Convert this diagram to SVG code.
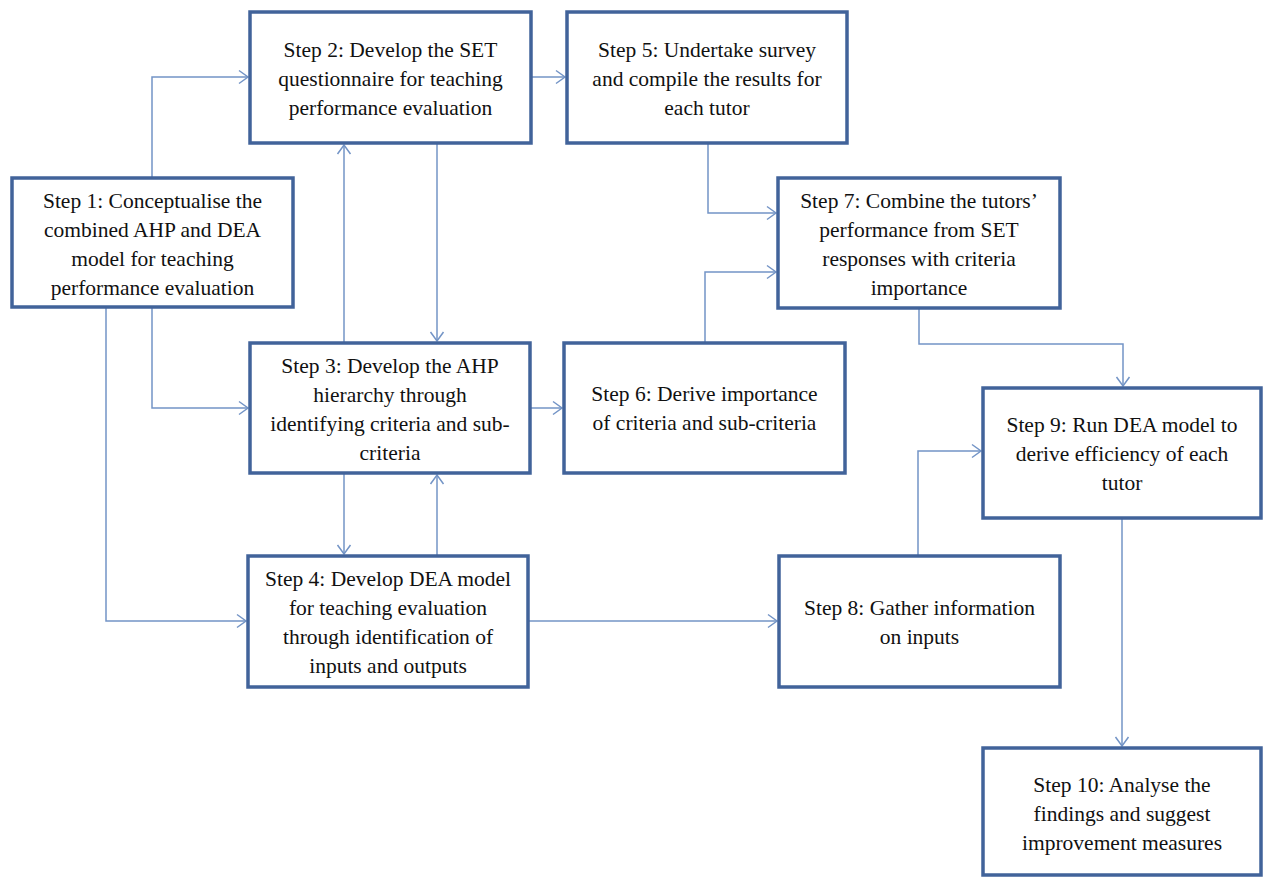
<svg xmlns="http://www.w3.org/2000/svg" width="1264" height="877" viewBox="0 0 1264 877">
<defs>
<style>
.box rect{fill:#fff;stroke:#41639a;stroke-width:3.5}
.box text{font-family:"Liberation Serif","Times New Roman",serif;font-size:21.5px;fill:#111;text-anchor:middle}
.conn path{fill:none;stroke:#7394c6;stroke-width:1.5}
</style>
<marker id="arr" viewBox="0 0 12 16" refX="10" refY="8" markerWidth="12" markerHeight="16" orient="auto" markerUnits="userSpaceOnUse">
<path d="M1,1.5 L10,8 L1,14.5" fill="none" stroke="#7394c6" stroke-width="1.5"/>
</marker>
</defs>
<rect width="1264" height="877" fill="#fff"/>
<g class="conn">
<path d="M152,178 V77 H248" marker-end="url(#arr)"/>
<path d="M531,77 H565" marker-end="url(#arr)"/>
<path d="M437,143 V341" marker-end="url(#arr)"/>
<path d="M344,343 V145" marker-end="url(#arr)"/>
<path d="M152,307 V408 H248" marker-end="url(#arr)"/>
<path d="M106,307 V621 H246" marker-end="url(#arr)"/>
<path d="M344,473 V554" marker-end="url(#arr)"/>
<path d="M437,556 V475" marker-end="url(#arr)"/>
<path d="M530,408 H562" marker-end="url(#arr)"/>
<path d="M708,143 V213 H776" marker-end="url(#arr)"/>
<path d="M705,343 V272 H776" marker-end="url(#arr)"/>
<path d="M919,308 V344 H1123 V386" marker-end="url(#arr)"/>
<path d="M528,621 H777" marker-end="url(#arr)"/>
<path d="M918,556 V451 H981" marker-end="url(#arr)"/>
<path d="M1122,518 V746" marker-end="url(#arr)"/>
</g>
<g id="step1" class="box">
<rect x="12" y="178" width="281" height="129"/>
<text x="152.5" y="208">Step 1: Conceptualise the</text>
<text x="152.5" y="237">combined AHP and DEA</text>
<text x="152.5" y="266">model for teaching</text>
<text x="152.5" y="295">performance evaluation</text>
</g>
<g id="step2" class="box">
<rect x="250" y="12" width="281" height="131"/>
<text x="390.5" y="57">Step 2: Develop the SET</text>
<text x="390.5" y="86">questionnaire for teaching</text>
<text x="390.5" y="115">performance evaluation</text>
</g>
<g id="step5" class="box">
<rect x="567" y="12" width="280" height="131"/>
<text x="707" y="57">Step 5: Undertake survey</text>
<text x="707" y="86">and compile the results for</text>
<text x="707" y="115">each tutor</text>
</g>
<g id="step7" class="box">
<rect x="778" y="178" width="282" height="130"/>
<text x="919" y="208">Step 7: Combine the tutors’</text>
<text x="919" y="237">performance from SET</text>
<text x="919" y="266">responses with criteria</text>
<text x="919" y="295">importance</text>
</g>
<g id="step3" class="box">
<rect x="250" y="343" width="280" height="130"/>
<text x="390" y="373">Step 3: Develop the AHP</text>
<text x="390" y="402">hierarchy through</text>
<text x="390" y="431">identifying criteria and sub-</text>
<text x="390" y="460">criteria</text>
</g>
<g id="step6" class="box">
<rect x="564" y="343" width="281" height="130"/>
<text x="704.5" y="401">Step 6: Derive importance</text>
<text x="704.5" y="430">of criteria and sub-criteria</text>
</g>
<g id="step4" class="box">
<rect x="248" y="556" width="280" height="131"/>
<text x="388" y="586">Step 4: Develop DEA model</text>
<text x="388" y="615">for teaching evaluation</text>
<text x="388" y="644">through identification of</text>
<text x="388" y="673">inputs and outputs</text>
</g>
<g id="step8" class="box">
<rect x="779" y="556" width="281" height="131"/>
<text x="919.5" y="615">Step 8: Gather information</text>
<text x="919.5" y="644">on inputs</text>
</g>
<g id="step9" class="box">
<rect x="983" y="388" width="278" height="130"/>
<text x="1122" y="432">Step 9: Run DEA model to</text>
<text x="1122" y="461">derive efficiency of each</text>
<text x="1122" y="490">tutor</text>
</g>
<g id="step10" class="box">
<rect x="983" y="748" width="278" height="127"/>
<text x="1122" y="792">Step 10: Analyse the</text>
<text x="1122" y="821">findings and suggest</text>
<text x="1122" y="850">improvement measures</text>
</g>
</svg>
